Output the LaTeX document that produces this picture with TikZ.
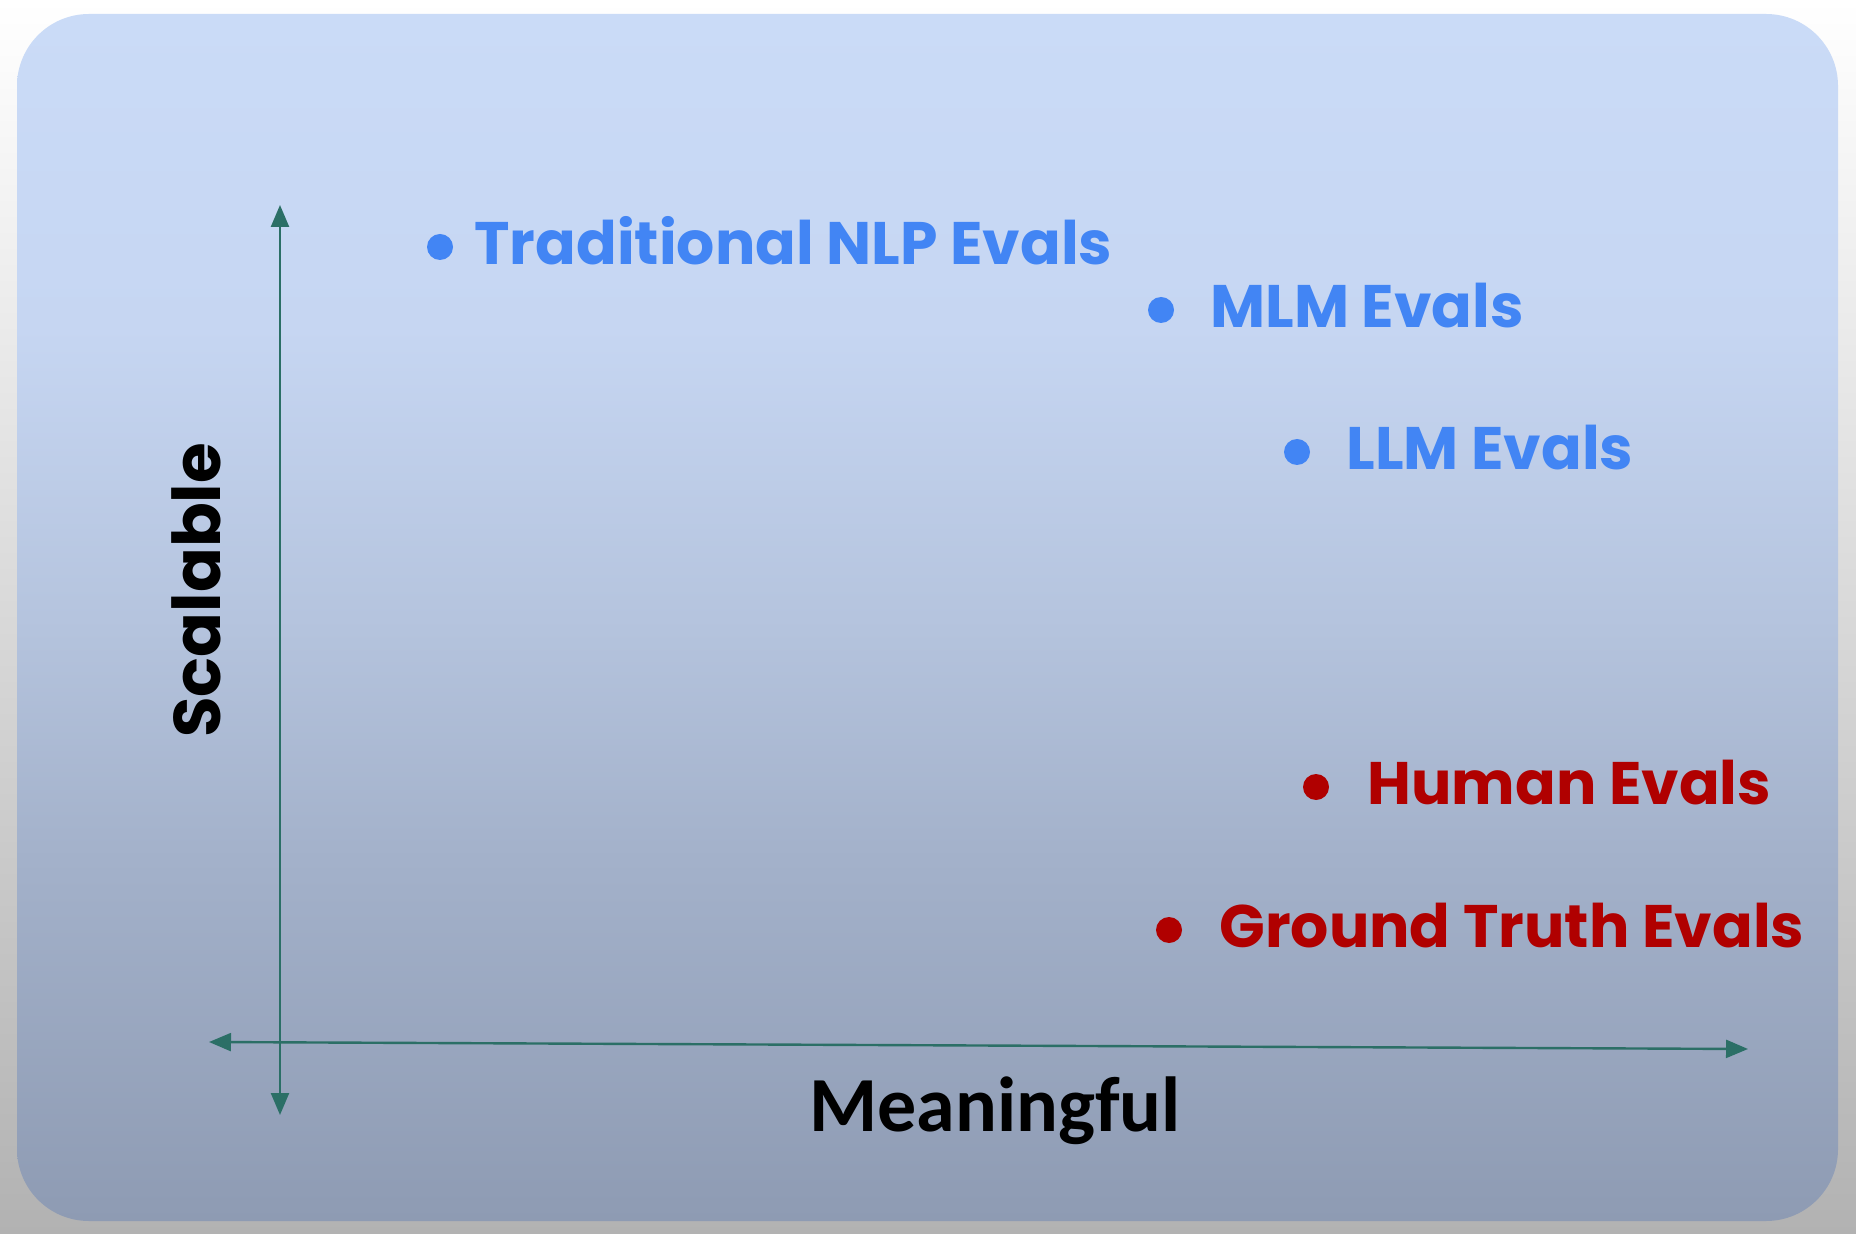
\documentclass[tikz,border=0pt]{standalone}
\usepackage{fontspec}
\usetikzlibrary{arrows.meta}
\newfontfamily\poppins{Poppins}
\newfontfamily\carlito{Carlito}
\definecolor{axisgreen}{HTML}{2B6F66}
\definecolor{evalblue}{HTML}{4285F4}
\definecolor{evalred}{HTML}{B00000}
\definecolor{paneltop}{HTML}{CADBF7}
\definecolor{panelhigh}{HTML}{C6D6F2}
\definecolor{panelmid}{HTML}{B5C4DE}
\definecolor{panellow}{HTML}{A3B1CA}
\definecolor{panelbot}{HTML}{8E9BB3}
\definecolor{outerbot}{HTML}{B2B2B2}
\pgfdeclareverticalshading{panelshade}{100bp}{color(0bp)=(panelbot); color(25bp)=(panelbot); color(40bp)=(panellow); color(50bp)=(panelmid); color(62bp)=(panelhigh); color(75bp)=(paneltop); color(100bp)=(paneltop)}
\tikzset{
  axis/.style={axisgreen, line width=1.2pt, {Triangle[length=11pt,width=9pt]}-{Triangle[length=11pt,width=9pt]}},
  evaldot/.style={circle, fill, inner sep=0pt, minimum size=13pt},
  evallbl/.style={inner sep=0pt, anchor=base west, font=\poppins\bfseries\fontsize{30}{36}\selectfont},
}
\begin{document}
\begin{tikzpicture}[x=0.5pt,y=-0.5pt]
        \useasboundingbox (0,0) rectangle (1856,1234);
        %Background
        \shade [top color=white, bottom color=outerbot] (0,0) rectangle (1856,1234);
        %Rounded Rect
        \shade [rounded corners=36pt, shading=panelshade] (17,14) rectangle (1838,1221);
        
        %Axes
        \coordinate (yTop) at (280,205);
        \coordinate (yBot) at (280,1115);
        \coordinate (xLeft) at (209,1042);
        \coordinate (xRight) at (1748,1049);
        \draw [axis] (yBot) -- (yTop);
        \draw [axis] (xLeft) -- (xRight);
        
        % Text Node
        \node [evaldot, evalblue] (tradDot) at (440,247) {};
        \node [evallbl, evalblue] (trad) at (474,265) {Traditional NLP Evals};
        % Text Node
        \node [evaldot, evalblue] (mlmDot) at (1161,310) {};
        \node [evallbl, evalblue] (mlm) at (1210,328) {MLM Evals};
        % Text Node
        \node [evaldot, evalblue] (llmDot) at (1297,452) {};
        \node [evallbl, evalblue] (llm) at (1346,470) {LLM Evals};
        % Text Node
        \node [evaldot, evalred] (humanDot) at (1316,787) {};
        \node [evallbl, evalred] (human) at (1367,804) {Human Evals};
        % Text Node
        \node [evaldot, evalred] (groundDot) at (1169,930) {};
        \node [evallbl, evalred] (ground) at (1219,947) {Ground Truth Evals};
        
        % Text Node
        \node [rotate=90, anchor=base west, inner sep=0pt, font=\poppins\bfseries\fontsize{33}{40}\selectfont] (scalable) at (220,738) {Scalable};
        % Text Node
        \node [anchor=base west, inner sep=0pt, font=\carlito\bfseries\fontsize{39}{46}\selectfont] (meaningful) at (809,1131) {Meaningful};
        
\end{tikzpicture}
\end{document}
